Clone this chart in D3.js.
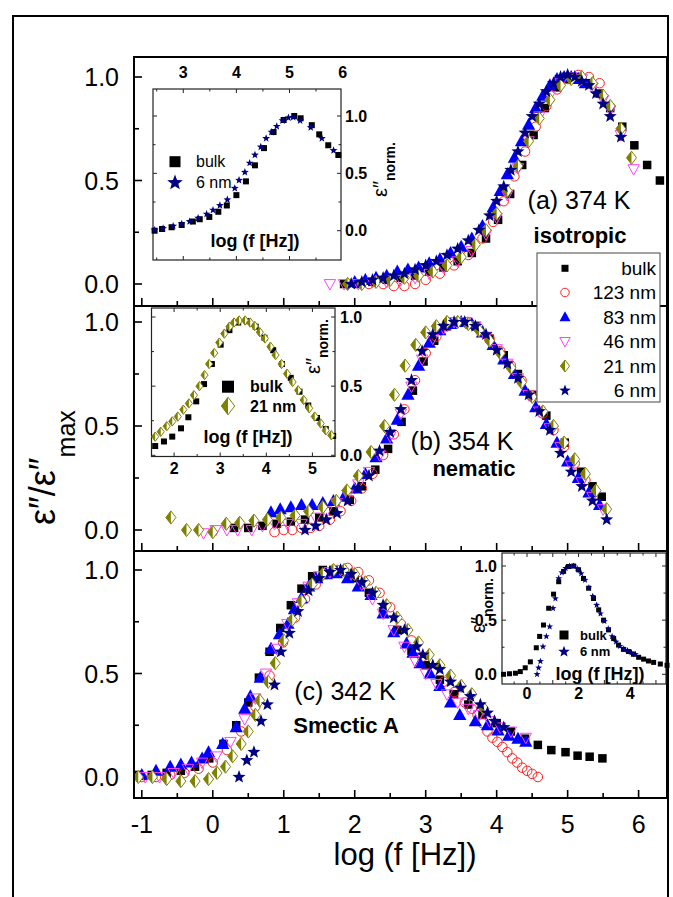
<!DOCTYPE html>
<html><head><meta charset="utf-8">
<script src="https://cdn.jsdelivr.net/npm/d3@7"></script>
<style>body{margin:0;background:#fff} text{font-family:"Liberation Sans",Arial,Helvetica,sans-serif}</style>
</head><body><svg id="c" width="673" height="897"></svg>
<script>
// ---------------- DATA ----------------
const seriesNames = ["bulk","123 nm","83 nm","46 nm","21 nm","6 nm"];
const xTicksMain = [-1,0,1,2,3,4,5,6];
const yTicksMain = [0,0.5,1];
const panelLabels = ["(a) 374 K","(b) 354 K","(c) 342 K"];
const phaseLabels = ["isotropic","nematic","Smectic A"];

// panel (a) 374 K
const a_bulk = [[1.85,0.0],[2.05,0.0],[2.25,0.01],[2.45,0.02],[2.65,0.03],[2.85,0.04],[3.05,0.06],[3.25,0.08],[3.45,0.11],[3.65,0.15],[3.85,0.22],[4.02,0.31],[4.19,0.435],[4.36,0.575],[4.52,0.72],[4.68,0.85],[4.84,0.95],[5.0,0.99],[5.15,1.0],[5.3,0.97],[5.45,0.92],[5.6,0.85],[5.77,0.76],[5.94,0.67],[6.12,0.575],[6.3,0.50]];
const a_123 = [[2.2,0.0],[2.4,0.0],[2.55,-0.01],[2.7,-0.01],[2.85,0.0],[3.0,0.02],[3.2,0.05],[3.4,0.09],[3.6,0.14],[3.8,0.22],[3.95,0.30],[4.1,0.40],[4.25,0.52],[4.4,0.64],[4.55,0.76],[4.7,0.86],[4.85,0.94],[5.0,0.99],[5.15,1.01],[5.3,1.0],[5.45,0.97]];
const a_83 = [[2.0,0.01],[2.15,0.02],[2.3,0.03],[2.45,0.04],[2.6,0.06],[2.75,0.07],[2.9,0.08],[3.05,0.1],[3.2,0.12],[3.35,0.15],[3.5,0.18],[3.65,0.22],[3.8,0.28],[3.95,0.37],[4.05,0.45],[4.15,0.53],[4.25,0.61],[4.35,0.69],[4.45,0.77],[4.55,0.85],[4.65,0.91],[4.75,0.96],[4.85,0.99],[4.95,1.0],[5.05,1.0],[5.15,0.99],[5.25,0.97]];
const a_46 = [[1.65,0.0],[1.85,0.0],[2.05,0.0],[2.25,0.01],[2.45,0.01],[2.65,0.02],[2.85,0.03],[3.05,0.05],[3.25,0.08],[3.45,0.11],[3.65,0.16],[3.85,0.24],[4.0,0.32],[4.15,0.43],[4.3,0.56],[4.45,0.69],[4.6,0.81],[4.75,0.91],[4.9,0.97],[5.05,1.0],[5.2,0.99],[5.35,0.95],[5.5,0.89],[5.6,0.84],[5.75,0.72],[5.93,0.555]];
const a_21 = [[1.9,0.0],[2.1,0.0],[2.3,0.01],[2.5,0.02],[2.7,0.03],[2.9,0.04],[3.1,0.06],[3.3,0.09],[3.5,0.13],[3.7,0.19],[3.85,0.26],[4.0,0.34],[4.15,0.45],[4.3,0.57],[4.45,0.69],[4.6,0.80],[4.75,0.89],[4.9,0.96],[5.05,0.99],[5.2,1.0],[5.35,0.97],[5.5,0.91],[5.6,0.86],[5.75,0.75],[5.9,0.61]];
const a_6 = [[1.95,0.0],[2.1,0.01],[2.25,0.02],[2.4,0.03],[2.55,0.04],[2.7,0.05],[2.85,0.07],[3.0,0.09],[3.15,0.11],[3.3,0.14],[3.45,0.17],[3.6,0.21],[3.75,0.26],[3.9,0.33],[4.0,0.40],[4.1,0.47],[4.2,0.55],[4.3,0.64],[4.4,0.73],[4.5,0.81],[4.6,0.87],[4.7,0.93],[4.8,0.97],[4.9,1.0],[5.0,1.01],[5.1,1.0],[5.2,0.98],[5.3,0.96],[5.4,0.92],[5.5,0.87],[5.6,0.81],[5.75,0.71]];

// panel (b) 354 K
const b_bulk = [[0.3,0.01],[0.5,0.01],[0.7,0.02],[0.9,0.03],[1.1,0.04],[1.3,0.05],[1.5,0.06],[1.7,0.09],[1.93,0.145],[2.1,0.21],[2.29,0.29],[2.47,0.39],[2.66,0.52],[2.82,0.67],[2.97,0.81],[3.12,0.91],[3.3,0.98],[3.5,1.0],[3.7,0.98],[3.9,0.92],[4.1,0.84],[4.3,0.75],[4.5,0.65],[4.7,0.55],[4.96,0.42],[5.19,0.28],[5.35,0.21],[5.48,0.16]];
const b_123 = [[0.87,-0.01],[1.0,0.0],[1.12,0.0],[1.25,0.01],[1.38,0.01],[1.5,0.02],[1.65,0.05],[1.8,0.09],[1.95,0.14],[2.1,0.2],[2.25,0.27],[2.4,0.36],[2.55,0.46],[2.7,0.58],[2.85,0.72],[3.0,0.85],[3.15,0.93],[3.3,0.98],[3.45,1.0],[3.6,1.0],[3.75,0.97],[3.9,0.92],[4.05,0.86],[4.2,0.79],[4.35,0.72],[4.5,0.64],[4.65,0.56],[4.8,0.48],[4.95,0.4],[5.1,0.32],[5.25,0.24]];
const b_83 = [[0.82,0.085],[0.95,0.1],[1.1,0.11],[1.25,0.12],[1.4,0.12],[1.55,0.13],[1.7,0.14],[1.85,0.16],[2.0,0.2],[2.15,0.27],[2.3,0.35],[2.45,0.44],[2.6,0.53],[2.75,0.65],[2.9,0.79],[3.05,0.9],[3.2,0.96],[3.35,0.99],[3.5,1.0],[3.65,0.99],[3.8,0.95],[3.95,0.89],[4.1,0.82],[4.25,0.75],[4.4,0.67],[4.55,0.59],[4.7,0.51],[4.85,0.42],[5.0,0.33],[5.15,0.25],[5.3,0.18],[5.45,0.12]];
const b_46 = [[-0.13,-0.015],[0.04,0.0],[0.2,0.0],[0.35,0.0],[0.55,0.0],[0.7,0.02],[0.87,0.03],[1.05,0.03],[1.25,0.03],[1.45,0.06],[1.6,0.09],[1.75,0.13],[1.9,0.17],[2.05,0.22],[2.2,0.28],[2.35,0.36],[2.5,0.45],[2.65,0.56],[2.8,0.69],[2.95,0.82],[3.1,0.92],[3.25,0.97],[3.4,1.0],[3.55,1.0],[3.7,0.98],[3.85,0.93],[4.0,0.87],[4.15,0.80],[4.3,0.73],[4.45,0.65],[4.6,0.57],[4.75,0.49],[4.9,0.40],[5.05,0.31],[5.2,0.23],[5.35,0.16],[5.5,0.1]];
const b_21 = [[-0.59,0.06],[-0.37,0.0],[-0.2,0.0],[0.0,-0.01],[0.19,0.03],[0.38,0.035],[0.58,0.045],[0.77,0.05],[0.96,0.06],[1.16,0.07],[1.35,0.09],[1.55,0.11],[1.74,0.14],[1.89,0.19],[2.05,0.26],[2.23,0.375],[2.42,0.50],[2.56,0.65],[2.71,0.79],[2.86,0.89],[3.0,0.95],[3.15,0.98],[3.3,1.0],[3.45,1.0],[3.6,0.99],[3.75,0.96],[3.9,0.91],[4.05,0.85],[4.2,0.78],[4.35,0.71],[4.5,0.64],[4.65,0.57],[4.8,0.5],[4.95,0.42],[5.1,0.34],[5.25,0.27],[5.4,0.19],[5.55,0.10]];
const b_6 = [[1.3,0.0],[1.45,0.02],[1.6,0.05],[1.75,0.08],[1.9,0.14],[2.05,0.2],[2.2,0.26],[2.35,0.38],[2.5,0.47],[2.65,0.58],[2.8,0.72],[2.95,0.86],[3.1,0.94],[3.25,0.98],[3.4,1.0],[3.55,1.0],[3.7,0.98],[3.85,0.94],[4.0,0.865],[4.15,0.80],[4.3,0.73],[4.45,0.65],[4.6,0.57],[4.75,0.48],[4.9,0.37],[5.05,0.28],[5.2,0.21],[5.35,0.14],[5.55,0.05]];

// panel (c) 342 K
const c_bulk = [[-1.05,0.01],[-0.86,0.01],[-0.65,0.02],[-0.45,0.03],[-0.25,0.05],[-0.05,0.09],[0.15,0.16],[0.33,0.25],[0.5,0.36],[0.65,0.48],[0.8,0.605],[0.95,0.72],[1.1,0.83],[1.25,0.91],[1.4,0.97],[1.55,1.0],[1.7,1.0],[1.85,0.99],[2.0,0.96],[2.2,0.89],[2.4,0.80],[2.6,0.71],[2.8,0.61],[3.0,0.54],[3.2,0.47],[3.4,0.40],[3.6,0.35],[3.8,0.30],[4.0,0.26],[4.2,0.22],[4.4,0.185],[4.58,0.155],[4.77,0.13],[4.97,0.12],[5.14,0.103],[5.31,0.098],[5.49,0.09]];
const c_123 = [[-1.0,0.0],[-0.8,0.0],[-0.6,0.01],[-0.4,0.02],[-0.2,0.04],[0.0,0.07],[0.2,0.13],[0.4,0.22],[0.6,0.34],[0.8,0.49],[0.99,0.65],[1.16,0.77],[1.3,0.86],[1.45,0.93],[1.6,0.98],[1.75,1.0],[1.9,1.01],[2.05,0.99],[2.2,0.95],[2.35,0.89],[2.5,0.82],[2.65,0.74],[2.8,0.66],[2.95,0.58],[3.1,0.51],[3.25,0.46],[3.4,0.41],[3.55,0.36],[3.65,0.33],[3.73,0.30],[3.8,0.26],[3.87,0.22],[3.94,0.19],[4.01,0.17],[4.08,0.145],[4.15,0.12],[4.22,0.09],[4.29,0.07],[4.36,0.045],[4.43,0.03],[4.5,0.015],[4.58,0.0]];
const c_83 = [[-1.0,0.01],[-0.8,0.03],[-0.6,0.05],[-0.45,0.06],[-0.3,0.07],[-0.15,0.09],[-0.06,0.12],[0.14,0.16],[0.33,0.24],[0.45,0.33],[0.53,0.39],[0.67,0.48],[0.82,0.62],[0.94,0.69],[1.06,0.74],[1.15,0.81],[1.25,0.865],[1.35,0.92],[1.45,0.96],[1.6,0.98],[1.74,0.985],[1.9,0.96],[2.05,0.92],[2.23,0.88],[2.4,0.79],[2.55,0.70],[2.73,0.645],[2.82,0.60],[2.92,0.55],[3.06,0.50],[3.2,0.44],[3.35,0.36],[3.48,0.30],[3.7,0.27],[3.87,0.25],[4.02,0.225],[4.17,0.2],[4.3,0.185],[4.41,0.17]];
const c_46 = [[-0.95,0.0],[-0.75,0.0],[-0.55,0.02],[-0.35,0.04],[-0.15,0.07],[0.05,0.1],[0.25,0.17],[0.45,0.28],[0.6,0.38],[0.75,0.5],[0.9,0.62],[1.05,0.74],[1.2,0.84],[1.35,0.92],[1.5,0.97],[1.65,0.99],[1.8,1.0],[1.95,0.98],[2.1,0.93],[2.25,0.86],[2.4,0.79],[2.55,0.71],[2.7,0.63],[2.85,0.56],[3.0,0.5],[3.15,0.45],[3.3,0.40],[3.45,0.36],[3.6,0.33],[3.75,0.3],[3.9,0.27],[4.05,0.24],[4.2,0.22],[4.41,0.19]];
const c_21 = [[-1.05,0.0],[-0.85,0.0],[-0.65,-0.01],[-0.45,-0.02],[-0.25,-0.02],[-0.06,-0.01],[0.06,0.02],[0.18,0.05],[0.28,0.10],[0.4,0.16],[0.5,0.22],[0.6,0.30],[0.66,0.37],[0.78,0.46],[0.88,0.55],[1.0,0.66],[1.12,0.76],[1.25,0.85],[1.4,0.93],[1.55,0.98],[1.7,1.0],[1.85,1.0],[2.0,0.98],[2.15,0.94],[2.3,0.89],[2.45,0.83],[2.6,0.77],[2.75,0.71],[2.9,0.65],[3.05,0.59],[3.2,0.54],[3.35,0.49],[3.5,0.44],[3.65,0.40],[3.82,0.33]];
const c_6 = [[0.37,0.0],[0.48,0.08],[0.58,0.12],[0.68,0.27],[0.77,0.35],[0.87,0.445],[0.96,0.605],[1.08,0.695],[1.2,0.80],[1.35,0.9],[1.5,0.96],[1.65,0.99],[1.8,1.0],[1.95,0.98],[2.1,0.94],[2.25,0.89],[2.4,0.83],[2.55,0.77],[2.7,0.71],[2.87,0.63],[2.96,0.59],[3.1,0.54],[3.2,0.52],[3.35,0.46],[3.49,0.43],[3.63,0.39],[3.77,0.35],[3.87,0.31],[3.97,0.27],[4.1,0.24]];

// inset (a): bulk vs 6 nm
const ia_bulk = [[2.46,0.0],[2.6,0.015],[2.78,0.03],[2.97,0.05],[3.18,0.08],[3.31,0.10],[3.49,0.12],[3.66,0.165],[3.82,0.22],[4.0,0.31],[4.18,0.43],[4.35,0.57],[4.52,0.72],[4.70,0.86],[4.89,0.965],[5.09,1.0],[5.21,0.98],[5.42,0.92],[5.56,0.84],[5.73,0.745],[5.92,0.66]];
const ia_6 = [[2.46,0.006],[2.62,0.02],[2.81,0.04],[2.97,0.06],[3.12,0.08],[3.28,0.11],[3.44,0.145],[3.56,0.18],[3.69,0.22],[3.83,0.27],[3.97,0.37],[4.05,0.44],[4.16,0.51],[4.25,0.59],[4.35,0.66],[4.46,0.73],[4.56,0.805],[4.66,0.86],[4.76,0.91],[4.87,0.96],[4.98,0.985],[5.07,0.99],[5.2,0.96],[5.4,0.90],[5.61,0.805],[5.83,0.70]];
// inset (b): bulk vs 21 nm
const ib_bulk = [[1.59,0.067],[1.78,0.10],[1.96,0.135],[2.15,0.195],[2.31,0.275],[2.48,0.39],[2.65,0.515],[2.82,0.66],[3.01,0.80],[3.2,0.905],[3.39,0.96],[3.58,0.97],[3.77,0.93],[3.96,0.85],[4.15,0.76],[4.34,0.66],[4.53,0.56],[4.72,0.46],[4.91,0.36],[5.1,0.27],[5.29,0.19],[5.45,0.14]];
const ib_21 = [[1.59,0.135],[1.71,0.17],[1.84,0.21],[1.96,0.245],[2.08,0.28],[2.2,0.33],[2.32,0.375],[2.43,0.435],[2.55,0.50],[2.66,0.58],[2.76,0.66],[2.87,0.74],[2.98,0.815],[3.09,0.88],[3.2,0.93],[3.3,0.96],[3.41,0.975],[3.54,0.975],[3.65,0.96],[3.75,0.935],[3.86,0.89],[3.97,0.845],[4.09,0.785],[4.2,0.725],[4.33,0.66],[4.45,0.59],[4.57,0.53],[4.69,0.47],[4.81,0.40],[4.93,0.34],[5.05,0.28],[5.18,0.23],[5.29,0.18],[5.41,0.145]];
// inset (c): bulk vs 6 nm
const ic_bulk = [[-0.91,0.0],[-0.68,0.005],[-0.45,0.01],[-0.26,0.025],[-0.07,0.06],[0.13,0.115],[0.36,0.245],[0.49,0.35],[0.64,0.455],[0.84,0.61],[1.03,0.74],[1.23,0.855],[1.42,0.95],[1.61,0.995],[1.81,1.0],[2.0,0.965],[2.19,0.885],[2.39,0.795],[2.58,0.70],[2.78,0.595],[2.97,0.50],[3.16,0.41],[3.36,0.33],[3.55,0.27],[3.74,0.23],[3.94,0.21],[4.13,0.185],[4.33,0.157],[4.52,0.14],[4.71,0.123],[4.91,0.11],[5.17,0.095],[5.43,0.083]];
const ic_6 = [[0.39,0.0],[0.45,0.06],[0.52,0.12],[0.62,0.255],[0.75,0.35],[0.88,0.44],[1.01,0.61],[1.1,0.70],[1.23,0.885],[1.35,0.94],[1.5,0.98],[1.65,1.0],[1.8,1.0],[1.95,0.975],[2.1,0.93],[2.25,0.87],[2.4,0.80],[2.55,0.72],[2.7,0.64],[2.85,0.56],[3.0,0.49],[3.15,0.42],[3.3,0.35],[3.45,0.3],[3.6,0.26],[3.75,0.235],[3.9,0.22],[4.05,0.2],[4.2,0.185]];

// ---------------- DRAWING ----------------
const svg = d3.select("#c");
const OLIVE = "#808000";
const kinds = ["square","circle","tri","tridown","diamond","star"];

function starPath(R){
  const r = R*0.42; let p = "";
  for (let i=0;i<10;i++){
    const a = -Math.PI/2 + i*Math.PI/5, rr = i%2? r : R;
    p += (i?"L":"M") + (rr*Math.cos(a)).toFixed(2) + "," + (rr*Math.sin(a)).toFixed(2);
  }
  return p + "Z";
}
function drawSeries(g, data, kind, X, Y, s){
  const sel = g.append("g").selectAll("g").data(data).join("g")
    .attr("transform", d => `translate(${X(d[0])},${Y(d[1])})`);
  if (kind==="square") sel.append("rect").attr("x",-s/2).attr("y",-s/2).attr("width",s).attr("height",s).attr("fill","#000");
  if (kind==="circle") sel.append("circle").attr("r",s/2).attr("fill","none").attr("stroke","#ff2020").attr("stroke-width",1);
  if (kind==="tri") sel.append("path").attr("d",`M0,${-s*0.58}L${s*0.55},${s*0.42}L${-s*0.55},${s*0.42}Z`).attr("fill","#0000ff");
  if (kind==="tridown") sel.append("path").attr("d",`M0,${s*0.55}L${s*0.52},${-s*0.4}L${-s*0.52},${-s*0.4}Z`).attr("fill","none").attr("stroke","#ff40ff").attr("stroke-width",1);
  if (kind==="diamond"){
    const w=s*0.42, h=s*0.55;
    sel.append("path").attr("d",`M0,${-h}L${w},0L0,${h}L${-w},0Z`).attr("fill","#fff").attr("stroke",OLIVE).attr("stroke-width",1);
    sel.append("path").attr("d",`M0,${-h}L0,${h}L${-w},0Z`).attr("fill",OLIVE);
  }
  if (kind==="star") sel.append("path").attr("d",starPath(s*0.55)).attr("fill","#000080");
}

// outer frame
svg.append("rect").attr("x",13).attr("y",16).attr("width",655).attr("height",900)
  .attr("fill","none").attr("stroke","#000").attr("stroke-width",2);

const X = d3.scaleLinear().domain([-1.11,6.4]).range([134,667]);
const panels = [
  {top:57, bottom:306, y0:284, y1:77, data:[a_bulk,a_123,a_83,a_46,a_21,a_6]},
  {top:306,bottom:551, y0:530, y1:322, data:[b_bulk,b_123,b_83,b_46,b_21,b_6]},
  {top:551,bottom:798, y0:777, y1:570, data:[c_bulk,c_123,c_83,c_46,c_21,c_6]}
];
const sizes = [8.5,9.5,12,11,12,12.5];

panels.forEach((p,pi) => {
  const Y = d3.scaleLinear().domain([0,1]).range([p.y0,p.y1]);
  const g = svg.append("g");
  const bt = d3.range(-1,6.01,0.5);
  g.selectAll(".bt").data(bt).join("line")
    .attr("x1",d=>X(d)).attr("x2",d=>X(d)).attr("y1",p.bottom)
    .attr("y2",d=>p.bottom-(Number.isInteger(d)?8:5)).attr("stroke","#000").attr("stroke-width",1.6);
  const lt = [0,0.25,0.5,0.75,1];
  g.selectAll(".lt").data(lt).join("line")
    .attr("x1",134).attr("x2",d=>134+(d*2%1===0?8:5)).attr("y1",d=>Y(d)).attr("y2",d=>Y(d))
    .attr("stroke","#000").attr("stroke-width",1.6);
  g.selectAll(".yl").data(yTicksMain).join("text")
    .attr("x",119).attr("y",d=>Y(d)).attr("dy","0.36em").attr("text-anchor","end")
    .attr("font-size",25).text(d=>d.toFixed(1));
  p.data.forEach((arr,si)=>drawSeries(g, arr, kinds[si], X, Y, sizes[si]));
});

svg.append("rect").attr("x",134).attr("y",57).attr("width",533).attr("height",741)
  .attr("fill","none").attr("stroke","#000").attr("stroke-width",2);
[306,551].forEach(y=>svg.append("line").attr("x1",134).attr("x2",667).attr("y1",y).attr("y2",y).attr("stroke","#000").attr("stroke-width",2));

svg.selectAll(".xl").data(xTicksMain).join("text")
  .attr("x",d=>X(d)).attr("y",833).attr("text-anchor","middle").attr("font-size",25).text(d=>d);
svg.append("text").attr("x",405).attr("y",865).attr("text-anchor","middle").attr("font-size",31).text("log (f [Hz])");
const yt = svg.append("text").attr("transform","translate(55,525) rotate(-90)").attr("font-size",36);
yt.append("tspan").text("ε″/ε″");
yt.append("tspan").attr("dy",20).attr("font-size",25).text("max");

svg.append("text").attr("x",579).attr("y",209).attr("text-anchor","middle").attr("font-size",25).text(panelLabels[0]);
svg.append("text").attr("x",580).attr("y",243).attr("text-anchor","middle").attr("font-size",22).attr("font-weight","bold").text(phaseLabels[0]);
svg.append("text").attr("x",462).attr("y",450).attr("text-anchor","middle").attr("font-size",25).text(panelLabels[1]);
svg.append("text").attr("x",474).attr("y",476).attr("text-anchor","middle").attr("font-size",22).attr("font-weight","bold").text(phaseLabels[1]);
svg.append("text").attr("x",345).attr("y",700).attr("text-anchor","middle").attr("font-size",25).text(panelLabels[2]);
svg.append("text").attr("x",346).attr("y",733).attr("text-anchor","middle").attr("font-size",22).attr("font-weight","bold").text(phaseLabels[2]);

// ---------------- INSETS ----------------
function inset(cfg){
  const g = svg.append("g");
  const x = d3.scaleLinear().domain(cfg.xd).range([cfg.l,cfg.r]);
  const y = d3.scaleLinear().domain([0,1]).range(cfg.yr);
  g.append("rect").attr("x",cfg.l).attr("y",cfg.t).attr("width",cfg.r-cfg.l).attr("height",cfg.b-cfg.t)
    .attr("fill","#fff").attr("stroke","#222").attr("stroke-width",1.2);
  const xt = d3.range(Math.ceil(cfg.xd[0]*2)/2, cfg.xd[1], 0.5);
  g.selectAll(".ixb").data(xt).join("line").attr("x1",d=>x(d)).attr("x2",d=>x(d))
    .attr("y1",cfg.b).attr("y2",d=>cfg.b-(Number.isInteger(d)?4:2.5)).attr("stroke","#222");
  g.selectAll(".ixt").data(xt).join("line").attr("x1",d=>x(d)).attr("x2",d=>x(d))
    .attr("y1",cfg.t).attr("y2",d=>cfg.t+(Number.isInteger(d)?4:2.5)).attr("stroke","#222");
  const ytk = [0,0.25,0.5,0.75,1].filter(v=>y(v)>cfg.t+1 && y(v)<cfg.b-1);
  g.selectAll(".iyl").data(ytk).join("line").attr("x1",cfg.l).attr("x2",d=>cfg.l+((d*2)%1===0?4:2.5))
    .attr("y1",d=>y(d)).attr("y2",d=>y(d)).attr("stroke","#222");
  g.selectAll(".iyr").data(ytk).join("line").attr("x1",cfg.r).attr("x2",d=>cfg.r-((d*2)%1===0?4:2.5))
    .attr("y1",d=>y(d)).attr("y2",d=>y(d)).attr("stroke","#222");
  g.selectAll(".ixl").data(cfg.xlab).join("text").attr("x",d=>x(d)).attr("y",cfg.xlabY)
    .attr("dy","0.36em").attr("text-anchor","middle").attr("font-size",16).attr("font-weight","bold").text(d=>d);
  g.selectAll(".iyt").data([0,0.5,1]).join("text").attr("x",cfg.ylabX).attr("y",d=>y(d))
    .attr("dy","0.36em").attr("text-anchor",cfg.ylabAnchor).attr("font-size",16).attr("font-weight","bold").text(d=>d.toFixed(1));
  const tt = g.append("text").attr("transform",`translate(${cfg.tx},${cfg.ty}) rotate(-90)`).attr("font-size",20);
  tt.append("tspan").text("ε″");
  tt.append("tspan").attr("dy",8).attr("font-size",14).attr("font-weight","bold").text("norm.");
  g.append("text").attr("x",cfg.xtx).attr("y",cfg.xty).attr("text-anchor","middle").attr("font-size",18).attr("font-weight","bold").text("log (f [Hz])");
  cfg.series.forEach(s=>drawSeries(g, s.data, s.kind, x, y, s.size));
  cfg.series.forEach((s,i)=>{
    const lg = g.append("g");
    drawSeries(lg, [[0,0]], s.kind, d3.scaleLinear().domain([0,1]).range([cfg.legX,cfg.legX+1]),
      d3.scaleLinear().domain([0,1]).range([cfg.legY[i],cfg.legY[i]+1]), s.legSize);
    lg.append("text").attr("x",cfg.legTX).attr("y",cfg.legY[i]).attr("dy","0.36em")
      .attr("font-size",cfg.legFS).attr("font-weight",cfg.legFW).text(s.name);
  });
}

inset({l:153,r:341,t:89,b:260,xd:[2.43,5.97],yr:[230.7,116],
  xlab:[3,4,5,6],xlabY:72,ylabX:345,ylabAnchor:"start",tx:387,ty:197,xtx:255,xty:247,
  series:[{data:ia_bulk,kind:"square",size:6,legSize:11,name:"bulk"},{data:ia_6,kind:"star",size:7.5,legSize:15,name:"6 nm"}],
  legX:175,legY:[161.7,182.7],legTX:196,legFS:16,legFW:"normal"});

inset({l:151.5,r:335,t:308,b:456.5,xd:[1.51,5.49],yr:[455.3,317],
  xlab:[2,3,4,5],xlabY:468,ylabX:340,ylabAnchor:"start",tx:320,ty:374,xtx:248,xty:443,
  series:[{data:ib_bulk,kind:"square",size:6,legSize:12,name:"bulk"},{data:ib_21,kind:"diamond",size:8.5,legSize:16,name:"21 nm"}],
  legX:228,legY:[386.7,406],legTX:250,legFS:16,legFW:"bold"});

inset({l:502,r:666,t:553,b:684,xd:[-0.97,5.39],yr:[674.3,566],
  xlab:[0,2,4],xlabY:693,ylabX:497,ylabAnchor:"end",tx:485,ty:633,xtx:600,xty:680,
  series:[{data:ic_bulk,kind:"square",size:5,legSize:9,name:"bulk"},{data:ic_6,kind:"star",size:6.5,legSize:11,name:"6 nm"}],
  legX:564,legY:[635,651.7],legTX:580,legFS:13,legFW:"bold"});

// ---------------- MAIN LEGEND ----------------
const leg = svg.append("g");
leg.append("rect").attr("x",537).attr("y",253).attr("width",123).attr("height",149)
  .attr("fill","#fff").attr("stroke","#444").attr("stroke-width",1);
const legRows = [268.3,292.5,317,341.5,366,390.5];
const legSizes = [7,8.5,10,10,11,11];
seriesNames.forEach((n,i)=>{
  drawSeries(leg, [[0,0]], kinds[i], d3.scaleLinear().domain([0,1]).range([565,566]),
    d3.scaleLinear().domain([0,1]).range([legRows[i],legRows[i]+1]), legSizes[i]);
  leg.append("text").attr("x",656).attr("y",legRows[i]).attr("dy","0.36em").attr("text-anchor","end")
    .attr("font-size",19).text(n);
});
</script></body></html>
